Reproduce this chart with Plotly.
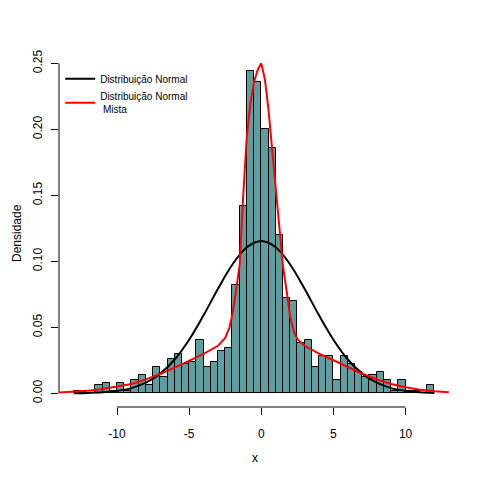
import plotly.graph_objects as go

# histogram (densidade), bins de largura 0.5 de -13 a 12
bin_start = [-13.0, -12.5, -12.0, -11.5, -11.0, -10.5, -10.0, -9.5, -9.0, -8.5,
             -8.0, -7.5, -7.0, -6.5, -6.0, -5.5, -5.0, -4.5, -4.0, -3.5,
             -3.0, -2.5, -2.0, -1.5, -1.0, -0.5, 0.0, 0.5, 1.0, 1.5,
             2.0, 2.5, 3.0, 3.5, 4.0, 4.5, 5.0, 5.5, 6.0, 6.5,
             7.0, 7.5, 8.0, 8.5, 9.0, 9.5, 10.0, 10.5, 11.0, 11.5]
densidade = [0.002, 0.0, 0.0, 0.006, 0.008, 0.002, 0.008, 0.002, 0.010, 0.014,
             0.006, 0.020, 0.012, 0.026, 0.030, 0.022, 0.024, 0.040, 0.020, 0.024,
             0.032, 0.034, 0.082, 0.142, 0.244, 0.236, 0.200, 0.186, 0.120, 0.072,
             0.070, 0.038, 0.040, 0.020, 0.028, 0.028, 0.010, 0.028, 0.022, 0.016,
             0.012, 0.014, 0.016, 0.010, 0.002, 0.010, 0.002, 0.002, 0.0, 0.006]
bin_width = 0.5

# curva normal (preta)
normal_x = [-13, -12, -11, -10, -9, -8, -7, -6, -5, -4, -3, -2, -1, 0,
            1, 2, 3, 4, 5, 6, 7, 8, 9, 10, 11, 12]
normal_y = [0.0001, 0.0003, 0.0007, 0.0018, 0.0039, 0.0080, 0.0149, 0.0256, 0.0406,
            0.0591, 0.0792, 0.0976, 0.1106, 0.1153, 0.1106, 0.0976, 0.0792, 0.0591,
            0.0406, 0.0256, 0.0149, 0.0080, 0.0039, 0.0018, 0.0007, 0.0003]

# curva normal mista (vermelha)
mista_x = [-14, -13, -12, -11, -10, -9, -8, -7, -6, -5, -4, -3, -2.5, -2.2, -2.0,
           -1.8, -1.5, -1.25, -1.0, -0.75, -0.5, -0.25, 0.0, 0.25, 0.5, 0.75, 1.0,
           1.25, 1.5, 1.8, 2.0, 2.25, 2.5, 3, 4, 5, 6, 7, 8, 9, 10, 11, 12, 13]
mista_y = [0.0005, 0.0012, 0.002, 0.0033, 0.005, 0.007, 0.0105, 0.0146, 0.0195, 0.0245,
           0.0298, 0.036, 0.042, 0.050, 0.060, 0.074, 0.097, 0.150, 0.195, 0.220,
           0.236, 0.245, 0.250, 0.238, 0.215, 0.185, 0.155, 0.125, 0.097, 0.074,
           0.058, 0.047, 0.041, 0.036, 0.030, 0.025, 0.0198, 0.0148, 0.0106, 0.007,
           0.0045, 0.0027, 0.0015, 0.0008]

x_ticks = [-10, -5, 0, 5, 10]
x_ticktext = ['-10', '-5', '0', '5', '10']
y_ticks = [0.00, 0.05, 0.10, 0.15, 0.20, 0.25]
y_ticktext = ['0.00', '0.05', '0.10', '0.15', '0.20', '0.25']

fonte = 'Liberation Sans, Arial, sans-serif'

fig = go.Figure()
fig.add_trace(go.Bar(
    x=bin_start, y=densidade, width=bin_width, offset=0,
    marker=dict(color='#5F9EA0', line=dict(color='black', width=1)),
    showlegend=False, hoverinfo='skip'))
fig.add_trace(go.Scatter(
    x=normal_x, y=normal_y, mode='lines', name='Distribuição Normal',
    line=dict(color='black', width=2, shape='spline')))
fig.add_trace(go.Scatter(
    x=mista_x, y=mista_y, mode='lines', name='Distribuição Normal<br> Mista',
    line=dict(color='red', width=2)))

# a pagina tem margem de 8px no body, por isso margens deslocadas
fig.update_layout(
    width=480, height=480,
    margin=dict(l=51, r=38, t=51, b=81, autoexpand=False),
    paper_bgcolor='white', plot_bgcolor='white',
    font=dict(family=fonte, size=12, color='black'),
    bargap=0,
    legend=dict(x=0.003, y=0.985, xanchor='left', yanchor='top',
                bgcolor='rgba(0,0,0,0)', font=dict(size=10),
                itemwidth=30, tracegroupgap=0),
    xaxis=dict(range=[-14.02, 13.08], showgrid=False, zeroline=False, showline=False,
               tickmode='array', tickvals=x_ticks, ticktext=x_ticktext, automargin=False,
               ticks='outside', ticklen=7, tickcolor='black', ticklabelstandoff=9),
    yaxis=dict(range=[-0.0104, 0.2533], showgrid=False, zeroline=False, showline=False,
               tickmode='array', tickvals=y_ticks, ticktext=y_ticktext, tickangle=-90,
               automargin=False,
               ticks='outside', ticklen=7, tickcolor='black', ticklabelstandoff=4),
    shapes=[
        # eixos no estilo R (linha so entre o primeiro e o ultimo tick)
        dict(type='line', xref='paper', yref='y', x0=0, x1=0, y0=y_ticks[0], y1=y_ticks[-1],
             line=dict(color='black', width=1)),
        dict(type='line', xref='x', yref='paper', x0=x_ticks[0], x1=x_ticks[-1], y0=0, y1=0,
             line=dict(color='black', width=1)),
    ],
    annotations=[
        dict(text='x', xref='paper', yref='paper', x=0.5, y=0, yshift=-60,
             showarrow=False, font=dict(size=12)),
        dict(text='Densidade', xref='paper', yref='paper', x=0, y=0.5, xshift=-51,
             textangle=-90, showarrow=False, font=dict(size=12)),
    ],
)

fig.write_html('out.html')
